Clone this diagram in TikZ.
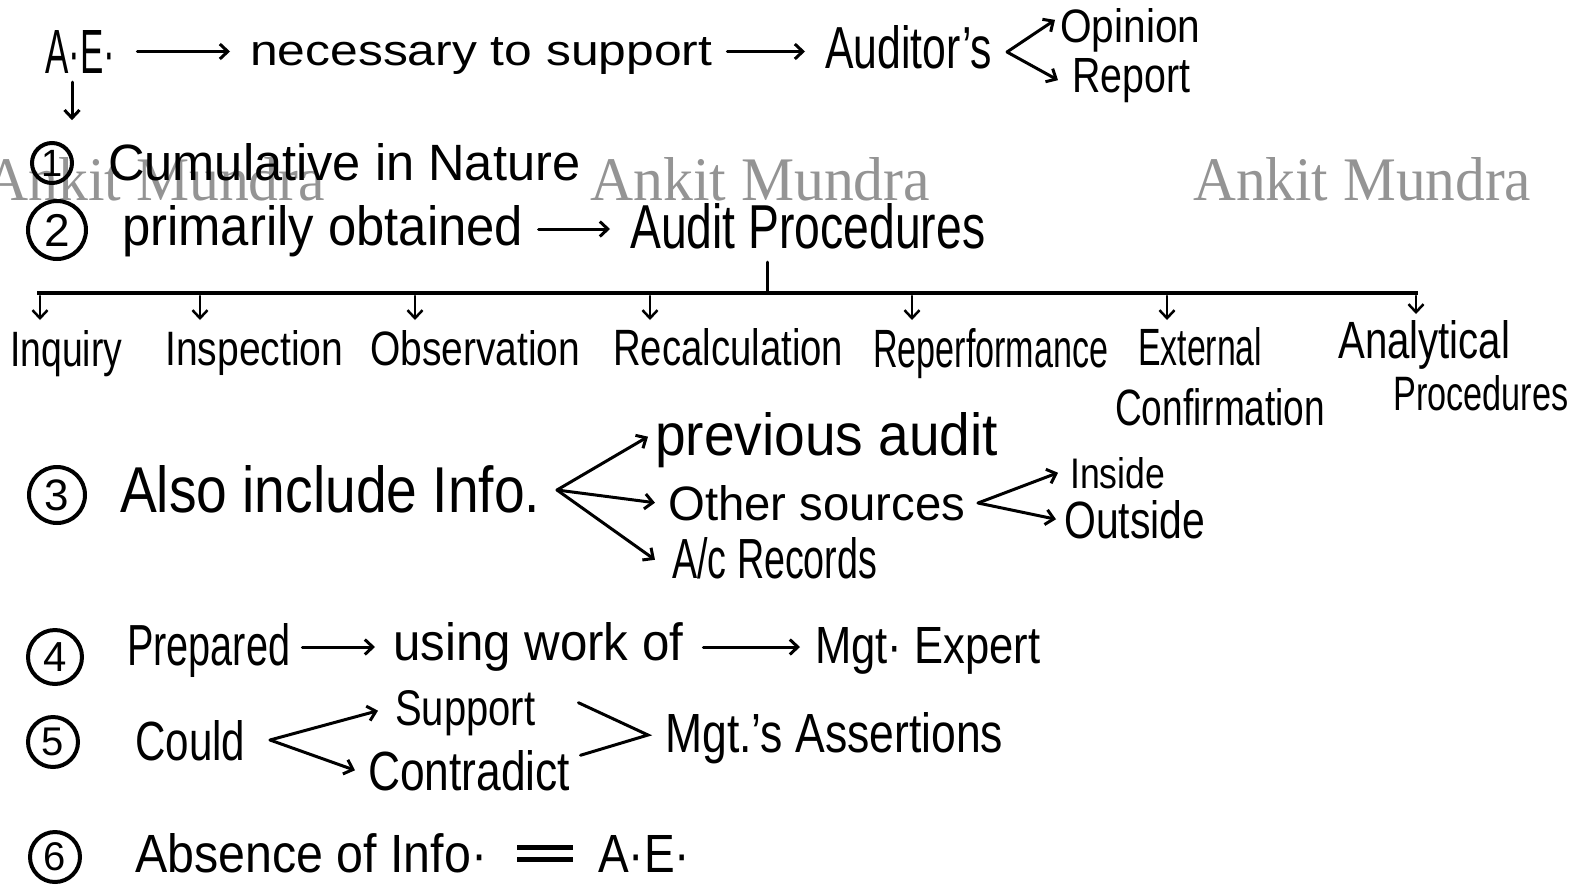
\documentclass[tikz,border=0pt]{standalone}
\usepackage{fontspec}
\setmainfont{Liberation Sans}
\newfontfamily\wmfont{Liberation Serif}
\usepackage{graphicx}
\usetikzlibrary{arrows.meta}
\newcommand{\hw}[3]{\resizebox{#1pt}{#2pt}{#3}}
\tikzset{
  txt/.style={inner sep=0pt, anchor=base west},
  wm/.style={inner sep=0pt, anchor=base west, text=black!42, font=\wmfont},
  arr/.style={line width=3pt, line cap=round, -{Straight Barb[length=8pt,width=15pt]}},
  ln/.style={line width=3pt, line cap=round},
  bar/.style={line width=4.5pt},
  num/.style={circle, draw, line width=4pt, inner sep=0pt},
}
\begin{document}
\begin{tikzpicture}[x=1pt,y=-1pt]
\useasboundingbox (0,0) rectangle (1575,887);
% watermarks
\node[wm] (wm1) at (-15,200) {\hw{340}{43}{Ankit Mundra}};
\node[wm] (wm2) at (590,200) {\hw{340}{43}{Ankit Mundra}};
\node[wm] (wm3) at (1193,200) {\hw{338}{43}{Ankit Mundra}};
% line 1
\node[txt] (ae) at (45,73) {\hw{70}{43}{A·E·}};
\node[txt] (nec) at (250,65) {\hw{462}{28}{necessary to support}};
\node[txt] (aud) at (825,68) {\hw{167}{43}{Auditor's}};
\node[txt] (opi) at (1060,42) {\hw{140}{34}{Opinion}};
\node[txt] (rep) at (1072,92) {\hw{118}{34}{Report}};
\draw[arr] ([xshift=22pt]ae.east) -- ([xshift=-20pt]ae.east -| nec.west);
\draw[arr] ([xshift=15pt]nec.east |- ae.east) -- ([xshift=-20pt]ae.east -| aud.west);
\coordinate (v1) at (1007,52);
\draw[arr] (v1) -- ([shift={(-5,-10)}]opi.west);
\draw[arr] (v1) -- ([shift={(-14,0)}]rep.west);
\draw[arr] ([shift={(27,9)}]ae.south west) -- ([shift={(27,47)}]ae.south west);
% item 1
\node[num, minimum size=40pt, font=\fontsize{38}{38}\selectfont] (n1) at (52,163) {1};
\node[txt] (cum) at (108,180) {\hw{472}{37}{Cumulative in Nature}};
% item 2
\node[num, minimum size=58pt, font=\fontsize{46}{46}\selectfont] (n2) at (57,230) {2};
\node[txt] (prim) at (122,245) {\hw{401}{40}{primarily obtained}};
\node[txt] (ap) at (630,248) {\hw{355}{45}{Audit Procedures}};
\draw[arr] ([xshift=15pt]prim.east |- 0,229) -- ([xshift=-20pt]ap.west |- 0,229);
\coordinate (apb) at (767,262);
\coordinate (barL) at (37,293);
\coordinate (barR) at (1418,293);
\draw[ln] (apb) -- (apb |- barL);
\draw[bar] (barL) -- (barR);
\node[txt] (inq) at (10,366) {\hw{112}{36}{Inquiry}};
\node[txt] (insp) at (165,365) {\hw{178}{35}{Inspection}};
\node[txt] (obs) at (370,365) {\hw{210}{35}{Observation}};
\node[txt] (rec) at (613,365) {\hw{230}{37}{Recalculation}};
\node[txt] (repf) at (873,367) {\hw{235}{39}{Reperformance}};
\node[txt] (ext) at (1138,365) {\hw{124}{38}{External}};
\node[txt] (conf) at (1115,425) {\hw{210}{37}{Confirmation}};
\node[txt] (ana) at (1338,358) {\hw{172}{38}{Analytical}};
\node[txt] (proc) at (1393,410) {\hw{175}{35}{Procedures}};
\foreach \x in {40,200,415,650,912,1167}
  \draw[arr, line width=2.5pt] (\x,296) -- (\x,320);
\draw[arr, line width=2.5pt] (1416,296) -- (1416,314);
% item 3
\node[num, minimum size=56pt, font=\fontsize{44}{44}\selectfont] (n3) at (57,495) {3};
\node[txt] (also) at (120,512) {\hw{420}{47}{Also include Info.}};
\coordinate (v3) at (557,490);
\node[txt] (prev) at (655,455) {\hw{343}{43}{previous audit}};
\node[txt] (oth) at (668,520) {\hw{297}{35}{Other sources}};
\node[txt] (ac) at (672,578) {\hw{205}{41}{A/c Records}};
\draw[arr] (v3) -- ([shift={(-7,-3)}]prev.west);
\draw[arr] (v3) -- ([shift={(-13,0)}]oth.west);
\draw[arr] (v3) -- ([shift={(-17,2)}]ac.west);
\coordinate (v4) at (978,503);
\node[txt] (ins) at (1070,488) {\hw{95}{31}{Inside}};
\node[txt] (outs) at (1064,538) {\hw{141}{38}{Outside}};
\draw[arr] (v4) -- ([shift={(-12,0)}]ins.west);
\draw[arr] (v4) -- ([shift={(-8,0)}]outs.west);
% item 4
\node[num, minimum size=54pt, font=\fontsize{42}{42}\selectfont] (n4) at (55,657) {4};
\node[txt] (prep) at (127,665) {\hw{163}{42}{Prepared}};
\node[txt] (using) at (393,660) {\hw{290}{38}{using work of}};
\node[txt] (mgt) at (815,663) {\hw{225}{36}{Mgt· Expert}};
\draw[arr] ([xshift=12pt]prep.east |- 0,647) -- ([xshift=-18pt]using.west |- 0,647);
\draw[arr] ([xshift=20pt]using.east |- 0,647) -- ([xshift=-15pt]mgt.west |- 0,647);
% item 5
\node[num, minimum size=50pt, font=\fontsize{40}{40}\selectfont] (n5) at (53,742) {5};
\node[txt] (could) at (135,760) {\hw{110}{40}{Could}};
\coordinate (v5) at (270,740);
\node[txt] (sup) at (395,725) {\hw{140}{35}{Support}};
\node[txt] (con) at (368,790) {\hw{202}{40}{Contradict}};
\draw[arr] (v5) -- ([shift={(-17,-2)}]sup.west);
\draw[arr] (v5) -- ([shift={(-13,0)}]con.west);
\coordinate (v6) at (648,735);
\node[txt] (mgta) at (665,752) {\hw{338}{40}{Mgt.'s Assertions}};
\draw[ln] ([shift={(43,-10)}]sup.east) -- (v6) -- ([shift={(10,-15)}]con.east);
% item 6
\node[num, minimum size=50pt, font=\fontsize{40}{40}\selectfont] (n6) at (55,857) {6};
\node[txt] (abs) at (135,872) {\hw{352}{39}{Absence of Info·}};
\node[txt] (ae2) at (598,872) {\hw{92}{37}{A·E·}};
\draw[line width=5pt] ([xshift=30pt]abs.east |- 0,847) -- ([xshift=-25pt]ae2.west |- 0,847);
\draw[line width=5pt] ([xshift=30pt]abs.east |- 0,859) -- ([xshift=-25pt]ae2.west |- 0,859);
\end{tikzpicture}
\end{document}
